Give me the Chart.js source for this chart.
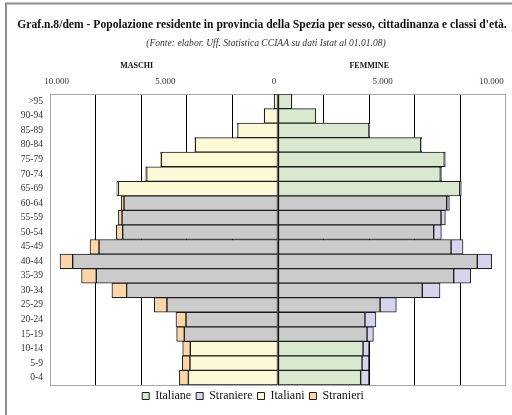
<!DOCTYPE html>
<html>
<head>
<meta charset="utf-8">
<script src="https://cdn.jsdelivr.net/npm/chart.js@4.4.0/dist/chart.umd.min.js"></script>
<style>
  html, body { margin: 0; padding: 0; background: #fff; }
  #wrap { width: 512px; height: 415px; position: relative; }
</style>
</head>
<body>
<div id="wrap"><canvas id="piramide"></canvas></div>
<script>
// classi d'età, dall'alto verso il basso
const classi = ['>95', '90-94', '85-89', '80-84', '75-79', '70-74', '65-69', '60-64', '55-59', '50-54',
  '45-49', '40-44', '35-39', '30-34', '25-29', '20-24', '15-19', '10-14', '5-9', '0-4'];
// classi in età attiva (barre grigie)
const classiAttive = ['60-64', '55-59', '50-54', '45-49', '40-44', '35-39', '30-34', '25-29', '20-24', '15-19'];

const italiane  = [600, 1650, 3990, 6260, 7295, 7120, 7970, 7400, 7150, 6830, 7590, 8740, 7705, 6330, 4475, 3815, 3905, 3730, 3685, 3625];
const straniere = [10, 15, 25, 40, 45, 55, 70, 115, 190, 335, 525, 630, 745, 775, 715, 480, 280, 265, 305, 365];
const italiani  = [165, 600, 1770, 3625, 5115, 5760, 7000, 6755, 6840, 6810, 7850, 9005, 7970, 6640, 4870, 4035, 4110, 3845, 3860, 3930];
const stranieri = [10, 10, 15, 25, 35, 45, 70, 120, 160, 280, 395, 555, 645, 645, 555, 440, 335, 335, 335, 395];

const tickValori = [-10000, -5000, 0, 5000, 10000];

const serif = "'Liberation Serif', 'Times New Roman', serif";
const GRIGIO = '#cbcbcb';

function colore(base) {
  return (c) => (c.type === 'data' && classiAttive.includes(classi[c.dataIndex])) ? GRIGIO : base;
}

function migliaia(v) {
  return String(Math.abs(v)).replace(/\B(?=(\d{3})+(?!\d))/g, '.');
}

// cornice esterna, bordo area grafico e testi
const decorazioni = {
  id: 'decorazioni',
  beforeDraw(chart) {
    const ctx = chart.ctx;
    ctx.save();
    ctx.fillStyle = '#fff';
    ctx.fillRect(0, 0, chart.width, chart.height);
    ctx.strokeStyle = '#8c8c8c';
    ctx.lineWidth = 2;
    ctx.beginPath();
    ctx.moveTo(6, chart.height + 2);
    ctx.lineTo(6, 3.5);
    ctx.lineTo(chart.width + 2, 3.5);
    ctx.stroke();
    ctx.restore();
  },
  beforeDatasetsDraw(chart) {
    const a = chart.chartArea;
    const ctx = chart.ctx;
    ctx.save();
    ctx.strokeStyle = '#a8a8a8';
    ctx.lineWidth = 1;
    ctx.strokeRect(a.left + 0.5, a.top + 0.5, a.right - a.left - 1, a.bottom - a.top);
    ctx.restore();
  },
  afterDraw(chart) {
    const ctx = chart.ctx;
    const a = chart.chartArea;
    const w = a.right - a.left;
    ctx.save();
    ctx.fillStyle = '#111';
    ctx.textAlign = 'center';
    ctx.textBaseline = 'middle';
    ctx.font = 'bold 11.6px ' + serif;
    ctx.fillText("Graf.n.8/dem - Popolazione residente in provincia della Spezia per sesso, cittadinanza e classi d'età.", 262, 25);
    ctx.font = 'italic 9.6px ' + serif;
    ctx.fillStyle = '#333';
    ctx.fillText('(Fonte: elabor. Uff. Statistica CCIAA su dati Istat al 01.01.08)', 266, 43);
    ctx.font = 'bold 8px ' + serif;
    ctx.fillStyle = '#111';
    ctx.fillText('MASCHI', a.left + w * 0.19, 66);
    ctx.fillText('FEMMINE', a.left + w * 0.70, 66);
    ctx.restore();
  }
};

const ctx = document.getElementById('piramide').getContext('2d');
new Chart(ctx, {
  type: 'bar',
  data: {
    labels: classi,
    datasets: [
      { label: 'Italiane', data: italiane, backgroundColor: colore('#d9e9d0') },
      { label: 'Straniere', data: straniere, backgroundColor: '#d5d5ee' },
      { label: 'Italiani', data: italiani.map(v => -v), backgroundColor: colore('#fdf8d5') },
      { label: 'Stranieri', data: stranieri.map(v => -v), backgroundColor: '#fcd6a9' }
    ]
  },
  options: {
    indexAxis: 'y',
    responsive: true,
    maintainAspectRatio: false,
    animation: false,
    datasets: {
      bar: { categoryPercentage: 1, barPercentage: 1, borderColor: '#1c1c1c', borderWidth: 1, borderSkipped: false }
    },
    layout: { padding: { top: 76, right: 6, left: 0, bottom: 3 } },
    plugins: {
      tooltip: { enabled: false },
      legend: {
        position: 'bottom',
        labels: {
          font: { family: serif, size: 12 },
          color: '#111',
          boxWidth: 7,
          boxHeight: 7,
          padding: 5
        }
      }
    },
    scales: {
      x: {
        stacked: true,
        min: -10000,
        max: 10000,
        ticks: { stepSize: 2000, display: false },
        grid: {
          drawTicks: false,
          color: c => Math.abs(c.tick.value) === 10000 ? 'rgba(0,0,0,0)' : '#000',
          lineWidth: 1
        },
        border: { display: false },
        afterFit: s => { s.height = 0; }
      },
      xTop: {
        type: 'linear',
        position: 'top',
        min: -10299,
        max: 10667,
        afterBuildTicks: s => { s.ticks = tickValori.map(v => ({ value: v })); },
        ticks: {
          font: { family: serif, size: 9 },
          color: '#333',
          padding: 7,
          callback: v => migliaia(v)
        },
        grid: { display: false, drawTicks: false },
        border: { display: false },
        afterFit: s => { s.height = 18; }
      },
      y: {
        stacked: true,
        grid: { display: false, drawTicks: false },
        border: { display: false },
        ticks: { font: { family: serif, size: 9.5 }, color: '#333', padding: 7, autoSkip: false },
        afterFit: s => { s.width = 50; }
      }
    }
  },
  plugins: [decorazioni]
});
</script>
</body>
</html>
